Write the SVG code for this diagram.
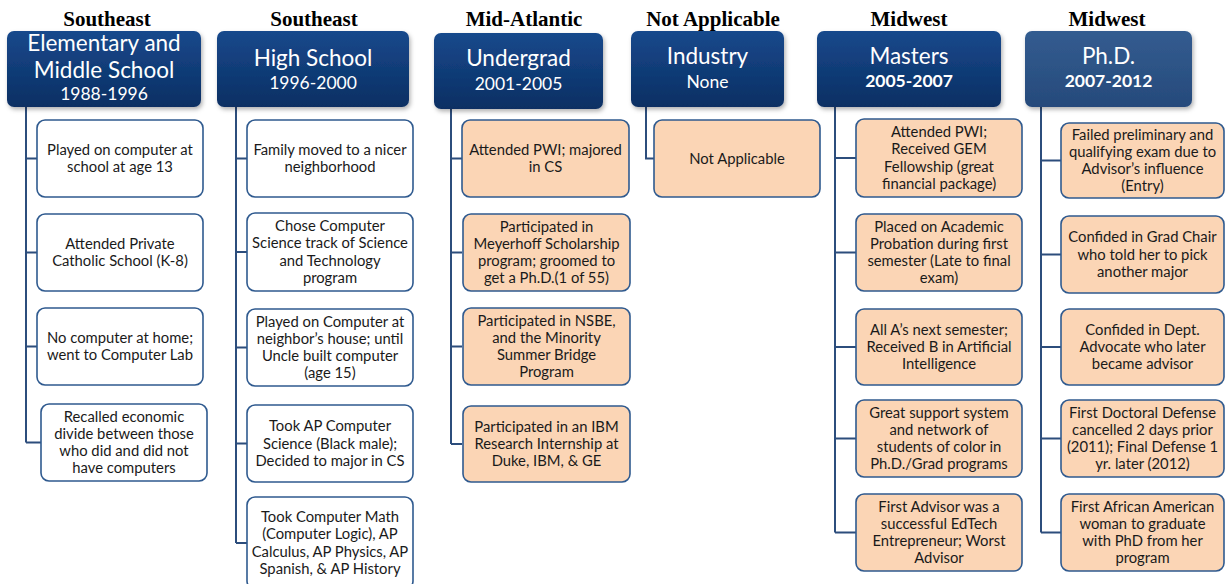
<svg xmlns="http://www.w3.org/2000/svg" width="1225" height="584" viewBox="0 0 1225 584">
  <defs>
    <linearGradient id="hdr" x1="0" y1="0" x2="0" y2="1">
      <stop offset="0" stop-color="#16498c"/>
      <stop offset="1" stop-color="#0c2f63"/>
    </linearGradient>
    <linearGradient id="hdrLight" x1="0" y1="0" x2="0" y2="1">
      <stop offset="0" stop-color="#335c90"/>
      <stop offset="1" stop-color="#264a7b"/>
    </linearGradient>
    <filter id="shadow" x="-10%" y="-10%" width="125%" height="130%">
      <feDropShadow dx="1.5" dy="2.5" stdDeviation="2" flood-color="#000" flood-opacity="0.3"/>
    </filter>
  </defs>
  <style>
    .region { font-family: "Liberation Serif", serif; font-weight: bold; font-size: 21px; fill: #000; text-anchor: middle; }
    .hbox { fill: url(#hdr); filter: url(#shadow); }
    .hbox.light { fill: url(#hdrLight); }
    .htitle { font-family: Lato, "Noto Sans", sans-serif; font-size: 22.5px; fill: #fff; text-anchor: middle; }
    .hyear { font-family: Lato, "Noto Sans", sans-serif; font-size: 17.5px; fill: #fff; text-anchor: middle; }
    .hyear.b { font-weight: bold; }
    .box { stroke: #2f5a8f; stroke-width: 1.6; }
    .white { fill: #ffffff; }
    .peach { fill: #fbd5b5; }
    .lbl { font-family: Lato, "Noto Sans", sans-serif; font-size: 14.8px; fill: #1a1a1a; text-anchor: middle; }
    .conn { stroke: #2c4d7c; stroke-width: 2; fill: none; }
  </style>

  <rect width="1225" height="584" fill="#ffffff"/>

  <!-- region labels -->
  <g id="regions">
    <text class="region" x="107" y="26">Southeast</text>
    <text class="region" x="314" y="26">Southeast</text>
    <text class="region" x="524" y="26">Mid-Atlantic</text>
    <text class="region" x="713" y="26">Not Applicable</text>
    <text class="region" x="909" y="26">Midwest</text>
    <text class="region" x="1107" y="26">Midwest</text>
  </g>

  <!-- connectors -->
  <g id="connectors">
    <path class="conn" d="M26 107 V442.5 M26 158.5 H37 M26 252.5 H37 M26 346.5 H37 M26 442.5 H41"/>
    <path class="conn" d="M236 107 V543 M236 158.5 H247 M236 252 H247 M236 347.5 H247 M236 443.5 H247 M236 543 H247"/>
    <path class="conn" d="M451 109 V444 M451 158.5 H462 M451 252.5 H462 M451 346.5 H462 M451 444 H462"/>
    <path class="conn" d="M646 107 V158.5 H654"/>
    <path class="conn" d="M835 107 V532.5 M835 158 H856 M835 252.5 H856 M835 347 H856 M835 438.5 H856 M835 532.5 H856"/>
    <path class="conn" d="M1041 107 V532.5 M1041 160.5 H1061 M1041 254.5 H1061 M1041 347 H1061 M1041 438.5 H1061 M1041 532.5 H1061"/>
  </g>

  <!-- header nodes -->
  <g id="hdr-elementary">
    <rect class="hbox" x="7" y="31" width="194" height="76" rx="7"/>
    <text class="htitle" x="104" y="51">Elementary and</text>
    <text class="htitle" x="104" y="78">Middle School</text>
    <text class="hyear" x="104" y="100">1988-1996</text>
  </g>
  <g id="hdr-highschool">
    <rect class="hbox" x="217" y="31" width="192" height="76" rx="7"/>
    <text class="htitle" x="313" y="66">High School</text>
    <text class="hyear" x="313" y="89">1996-2000</text>
  </g>
  <g id="hdr-undergrad">
    <rect class="hbox" x="434" y="33" width="169" height="76" rx="7"/>
    <text class="htitle" x="518.5" y="66">Undergrad</text>
    <text class="hyear" x="518.5" y="90">2001-2005</text>
  </g>
  <g id="hdr-industry">
    <rect class="hbox" x="631" y="31" width="153" height="76" rx="7"/>
    <text class="htitle" x="707.5" y="64">Industry</text>
    <text class="hyear" x="707.5" y="88">None</text>
  </g>
  <g id="hdr-masters">
    <rect class="hbox" x="817" y="31" width="184" height="76" rx="7"/>
    <text class="htitle" x="909" y="64">Masters</text>
    <text class="hyear b" x="909" y="87">2005-2007</text>
  </g>
  <g id="hdr-phd">
    <rect class="hbox light" x="1025" y="31" width="167" height="76" rx="7"/>
    <text class="htitle" x="1108.5" y="64">Ph.D.</text>
    <text class="hyear b" x="1108.5" y="87">2007-2012</text>
  </g>

  <!-- elementary and middle school -->
  <g id="elem-1">
    <rect class="box white" x="37" y="120" width="166" height="77" rx="8"/>
    <text class="lbl" x="120" y="155"><tspan x="120">Played on computer at</tspan><tspan x="120" dy="17.3">school at age 13</tspan></text>
  </g>
  <g id="elem-2">
    <rect class="box white" x="37" y="214" width="166" height="77" rx="8"/>
    <text class="lbl" x="120" y="249"><tspan x="120">Attended Private</tspan><tspan x="120" dy="17.3">Catholic School (K-8)</tspan></text>
  </g>
  <g id="elem-3">
    <rect class="box white" x="37" y="308" width="166" height="77" rx="8"/>
    <text class="lbl" x="120" y="343"><tspan x="120">No computer at home;</tspan><tspan x="120" dy="17.3">went to Computer Lab</tspan></text>
  </g>
  <g id="elem-4">
    <rect class="box white" x="41" y="404" width="166" height="77" rx="8"/>
    <text class="lbl" x="124" y="421.5"><tspan x="124">Recalled economic</tspan><tspan x="124" dy="17.3">divide between those</tspan><tspan x="124" dy="17.3">who did and did not</tspan><tspan x="124" dy="17.3">have computers</tspan></text>
  </g>

  <!-- high school -->
  <g id="hs-1">
    <rect class="box white" x="247" y="120" width="166" height="77" rx="8"/>
    <text class="lbl" x="330" y="155"><tspan x="330">Family moved to a nicer</tspan><tspan x="330" dy="17.3">neighborhood</tspan></text>
  </g>
  <g id="hs-2">
    <rect class="box white" x="247" y="213" width="166" height="78" rx="8"/>
    <text class="lbl" x="330" y="231"><tspan x="330">Chose Computer</tspan><tspan x="330" dy="17.3">Science track of Science</tspan><tspan x="330" dy="17.3">and Technology</tspan><tspan x="330" dy="17.3">program</tspan></text>
  </g>
  <g id="hs-3">
    <rect class="box white" x="247" y="309" width="166" height="77" rx="8"/>
    <text class="lbl" x="330" y="326.5"><tspan x="330">Played on Computer at</tspan><tspan x="330" dy="17.3">neighbor’s house; until</tspan><tspan x="330" dy="17.3">Uncle built computer</tspan><tspan x="330" dy="17.3">(age 15)</tspan></text>
  </g>
  <g id="hs-4">
    <rect class="box white" x="247" y="405" width="166" height="77" rx="8"/>
    <text class="lbl" x="330" y="431.2"><tspan x="330">Took AP Computer</tspan><tspan x="330" dy="17.3">Science (Black male);</tspan><tspan x="330" dy="17.3">Decided to major in CS</tspan></text>
  </g>
  <g id="hs-5">
    <rect class="box white" x="247" y="497" width="166" height="92" rx="8"/>
    <text class="lbl" x="330" y="522"><tspan x="330">Took Computer Math</tspan><tspan x="330" dy="17.3">(Computer Logic), AP</tspan><tspan x="330" dy="17.3">Calculus, AP Physics, AP</tspan><tspan x="330" dy="17.3">Spanish, &amp; AP History</tspan></text>
  </g>

  <!-- undergrad -->
  <g id="ug-1">
    <rect class="box peach" x="462" y="120" width="167" height="77" rx="8"/>
    <text class="lbl" x="545.5" y="155"><tspan x="545.5">Attended PWI; majored</tspan><tspan x="545.5" dy="17.3">in CS</tspan></text>
  </g>
  <g id="ug-2">
    <rect class="box peach" x="463" y="214" width="167" height="77" rx="8"/>
    <text class="lbl" x="546.5" y="231.5"><tspan x="546.5">Participated in</tspan><tspan x="546.5" dy="17.3">Meyerhoff Scholarship</tspan><tspan x="546.5" dy="17.3">program; groomed to</tspan><tspan x="546.5" dy="17.3">get a Ph.D.(1 of 55)</tspan></text>
  </g>
  <g id="ug-3">
    <rect class="box peach" x="463" y="308" width="167" height="77" rx="8"/>
    <text class="lbl" x="546.5" y="325.5"><tspan x="546.5">Participated in NSBE,</tspan><tspan x="546.5" dy="17.3">and the Minority</tspan><tspan x="546.5" dy="17.3">Summer Bridge</tspan><tspan x="546.5" dy="17.3">Program</tspan></text>
  </g>
  <g id="ug-4">
    <rect class="box peach" x="463" y="406" width="167" height="76" rx="8"/>
    <text class="lbl" x="546.5" y="431.7"><tspan x="546.5">Participated in an IBM</tspan><tspan x="546.5" dy="17.3">Research Internship at</tspan><tspan x="546.5" dy="17.3">Duke, IBM, &amp; GE</tspan></text>
  </g>

  <!-- industry -->
  <g id="ind-1">
    <rect class="box peach" x="654" y="120" width="166" height="77" rx="8"/>
    <text class="lbl" x="737" y="163.5">Not Applicable</text>
  </g>

  <!-- masters -->
  <g id="ms-1">
    <rect class="box peach" x="856" y="119" width="166" height="78" rx="8"/>
    <text class="lbl" x="939" y="137"><tspan x="939">Attended PWI;</tspan><tspan x="939" dy="17.3">Received GEM</tspan><tspan x="939" dy="17.3">Fellowship (great</tspan><tspan x="939" dy="17.3">financial package)</tspan></text>
  </g>
  <g id="ms-2">
    <rect class="box peach" x="856" y="214" width="166" height="77" rx="8"/>
    <text class="lbl" x="939" y="231.5"><tspan x="939">Placed on Academic</tspan><tspan x="939" dy="17.3">Probation during  first</tspan><tspan x="939" dy="17.3">semester (Late to final</tspan><tspan x="939" dy="17.3">exam)</tspan></text>
  </g>
  <g id="ms-3">
    <rect class="box peach" x="856" y="309" width="166" height="76" rx="8"/>
    <text class="lbl" x="939" y="334.7"><tspan x="939">All A’s next semester;</tspan><tspan x="939" dy="17.3">Received B in Artificial</tspan><tspan x="939" dy="17.3">Intelligence</tspan></text>
  </g>
  <g id="ms-4">
    <rect class="box peach" x="856" y="400" width="166" height="77" rx="8"/>
    <text class="lbl" x="939" y="417.5"><tspan x="939">Great support system</tspan><tspan x="939" dy="17.3">and network of</tspan><tspan x="939" dy="17.3">students of color in</tspan><tspan x="939" dy="17.3">Ph.D./Grad programs</tspan></text>
  </g>
  <g id="ms-5">
    <rect class="box peach" x="856" y="494" width="166" height="77" rx="8"/>
    <text class="lbl" x="939" y="511.5"><tspan x="939">First Advisor was a</tspan><tspan x="939" dy="17.3">successful EdTech</tspan><tspan x="939" dy="17.3">Entrepreneur; Worst</tspan><tspan x="939" dy="17.3">Advisor</tspan></text>
  </g>

  <!-- ph.d. -->
  <g id="phd-1">
    <rect class="box peach" x="1061" y="123" width="163" height="75" rx="8"/>
    <text class="lbl" x="1142.5" y="139.5"><tspan x="1142.5">Failed preliminary and</tspan><tspan x="1142.5" dy="17.3">qualifying exam due to</tspan><tspan x="1142.5" dy="17.3">Advisor’s influence</tspan><tspan x="1142.5" dy="17.3">(Entry)</tspan></text>
  </g>
  <g id="phd-2">
    <rect class="box peach" x="1061" y="216" width="163" height="77" rx="8"/>
    <text class="lbl" x="1142.5" y="242.2"><tspan x="1142.5">Confided in Grad Chair</tspan><tspan x="1142.5" dy="17.3">who told her to pick</tspan><tspan x="1142.5" dy="17.3">another major</tspan></text>
  </g>
  <g id="phd-3">
    <rect class="box peach" x="1061" y="309" width="163" height="76" rx="8"/>
    <text class="lbl" x="1142.5" y="334.7"><tspan x="1142.5">Confided in Dept.</tspan><tspan x="1142.5" dy="17.3">Advocate who later</tspan><tspan x="1142.5" dy="17.3">became advisor</tspan></text>
  </g>
  <g id="phd-4">
    <rect class="box peach" x="1061" y="400" width="163" height="77" rx="8"/>
    <text class="lbl" x="1142.5" y="417.5"><tspan x="1142.5">First Doctoral Defense</tspan><tspan x="1142.5" dy="17.3">cancelled 2 days prior</tspan><tspan x="1142.5" dy="17.3">(2011); Final Defense 1</tspan><tspan x="1142.5" dy="17.3">yr. later (2012)</tspan></text>
  </g>
  <g id="phd-5">
    <rect class="box peach" x="1061" y="494" width="163" height="77" rx="8"/>
    <text class="lbl" x="1142.5" y="511.5"><tspan x="1142.5">First African American</tspan><tspan x="1142.5" dy="17.3">woman to graduate</tspan><tspan x="1142.5" dy="17.3">with PhD from her</tspan><tspan x="1142.5" dy="17.3">program</tspan></text>
  </g>
</svg>
